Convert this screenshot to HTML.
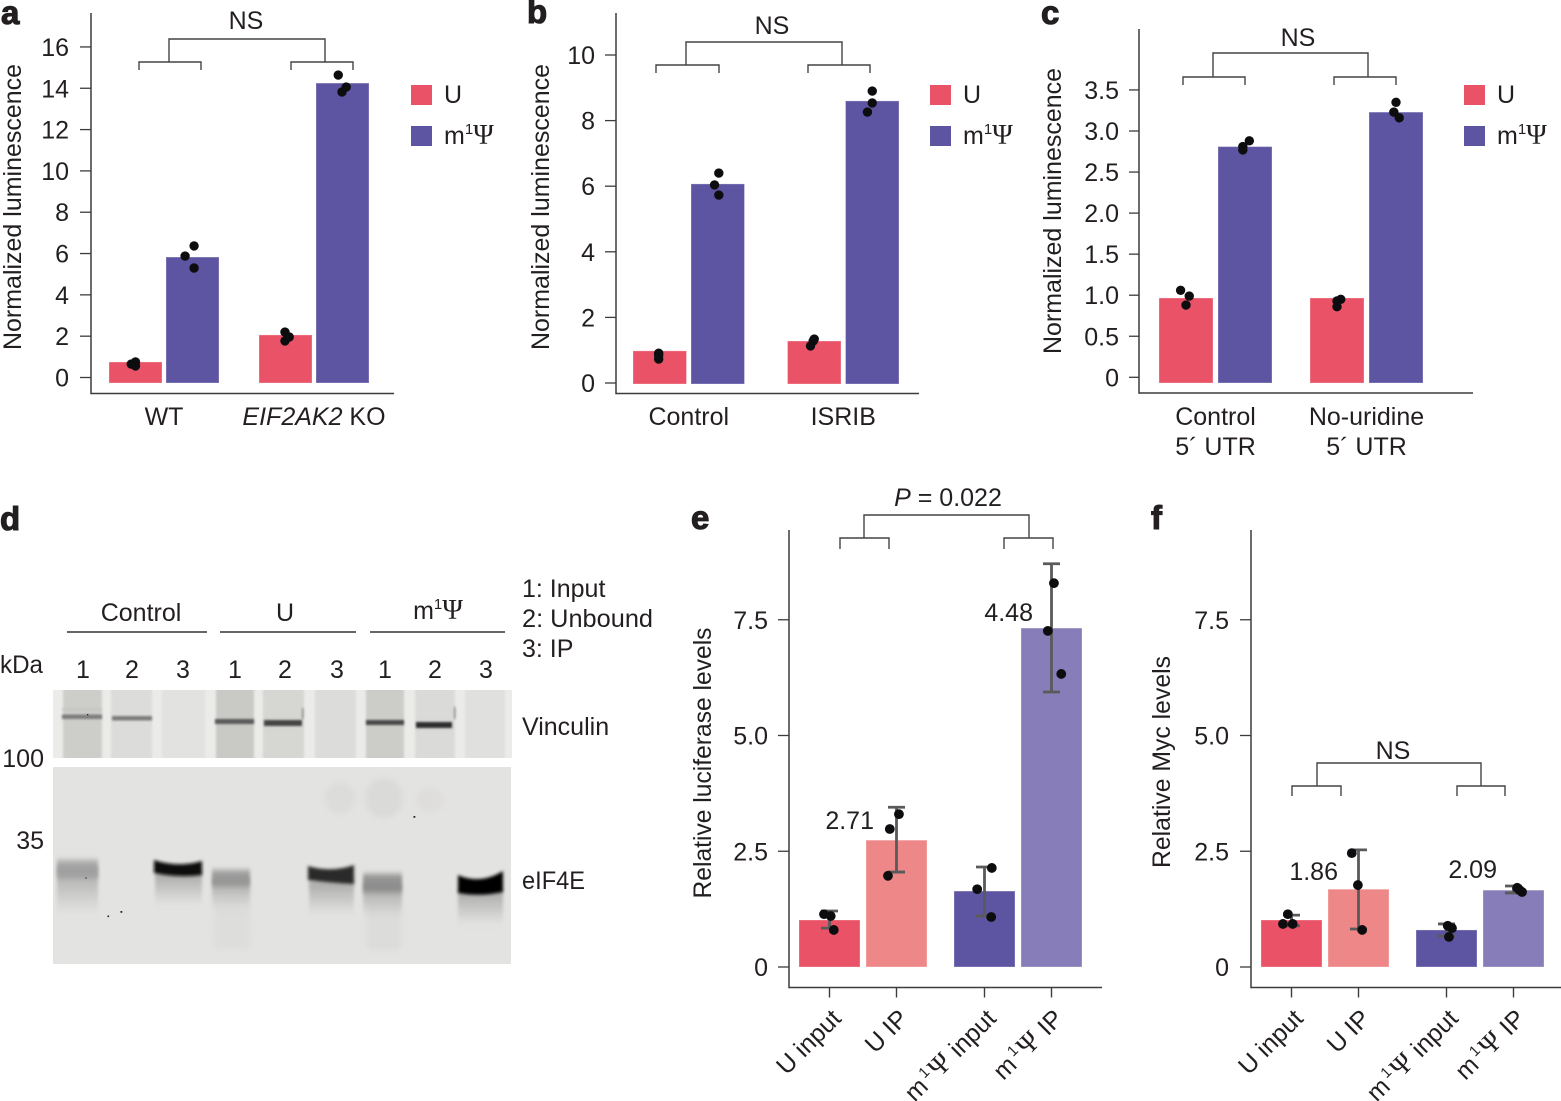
<!DOCTYPE html>
<html lang="en">
<head>
<meta charset="utf-8">
<title>Luminescence, blot and IP panels</title>
<style>
  html, body { margin: 0; padding: 0; background: #fff; }
  svg { display: block; }
  text { font-family: "Liberation Sans", Arial, sans-serif; font-size: 25px; fill: #231f20; }
  .psi { font-family: "Liberation Serif", serif; font-size: 28px; }
  .letter { font-size: 33px; font-weight: 700; stroke: #231f20; stroke-width: 1.1px; }
  .bracket { fill: none; stroke: #444; stroke-width: 1.4; }
  .sep { stroke: #333; stroke-width: 1.4; }
</style>
</head>
<body>
<svg id="figure" xmlns="http://www.w3.org/2000/svg" width="1561" height="1101" viewBox="0 0 1561 1101">
  <defs>
    <filter id="b1" x="-20%" y="-100%" width="140%" height="300%"><feGaussianBlur stdDeviation="1"/></filter>
    <filter id="b15" x="-20%" y="-100%" width="140%" height="300%"><feGaussianBlur stdDeviation="1.5"/></filter>
    <filter id="b3" x="-30%" y="-100%" width="160%" height="300%"><feGaussianBlur stdDeviation="1.5 3"/></filter>
    <filter id="b4" x="-30%" y="-50%" width="160%" height="200%"><feGaussianBlur stdDeviation="3"/></filter>
    <linearGradient id="smear" x1="0" y1="0" x2="0" y2="1">
      <stop offset="0" stop-color="#808080" stop-opacity=".62"/>
      <stop offset=".55" stop-color="#909090" stop-opacity=".3"/>
      <stop offset="1" stop-color="#aaa" stop-opacity="0"/>
    </linearGradient>
    <clipPath id="clip-vinc"><rect x="53" y="690" width="459" height="68"/></clipPath>
    <clipPath id="clip-eif"><rect x="53" y="767" width="458" height="197"/></clipPath>
  </defs>

  <!-- panel letters -->
  <text class="letter" x="1" y="24">a</text>
  <text class="letter" x="527" y="23">b</text>
  <text class="letter" x="1041" y="24">c</text>
  <text class="letter" x="0" y="530">d</text>
  <text class="letter" x="691" y="529">e</text>
  <text class="letter" x="1151" y="529">f</text>

  <!-- axis titles -->
  <text transform="translate(21,207) rotate(-90)" text-anchor="middle" textLength="286" lengthAdjust="spacingAndGlyphs">Normalized luminescence</text>
  <text transform="translate(549,207) rotate(-90)" text-anchor="middle" textLength="286" lengthAdjust="spacingAndGlyphs">Normalized luminescence</text>
  <text transform="translate(1061,211) rotate(-90)" text-anchor="middle" textLength="286" lengthAdjust="spacingAndGlyphs">Normalized luminescence</text>
  <text transform="translate(711,763) rotate(-90)" text-anchor="middle" textLength="271" lengthAdjust="spacingAndGlyphs">Relative luciferase levels</text>
  <text transform="translate(1170,762) rotate(-90)" text-anchor="middle" textLength="212" lengthAdjust="spacingAndGlyphs">Relative Myc levels</text>

  <!-- significance brackets -->
  <g>
    <path class="bracket" d="M139 70V62H201V70M291 70V62H353V70M169 62V39H325V62"/>
    <text x="246" y="29" text-anchor="middle">NS</text>
  </g>
  <g>
    <path class="bracket" d="M656 73V65H719V73M808 73V65H870V73M686 65V42H842V65"/>
    <text x="772" y="34" text-anchor="middle">NS</text>
  </g>
  <g>
    <path class="bracket" d="M1183 85V77H1245V85M1334 85V77H1396V85M1213 77V53H1368V77"/>
    <text x="1298" y="46" text-anchor="middle">NS</text>
  </g>
  <g>
    <path class="bracket" d="M840 549V538H889V549M1004 549V538H1053V549M864 538V515H1029V538"/>
    <text x="948" y="506" text-anchor="middle"><tspan font-style="italic">P</tspan> = 0.022</text>
  </g>
  <g>
    <path class="bracket" d="M1292 796V786H1341V796M1457 796V786H1505V796M1317 786V763H1481V786"/>
    <text x="1393" y="759" text-anchor="middle">NS</text>
  </g>

  <!-- legends -->
  <g>
    <rect x="411" y="85" width="21" height="20" fill="#e95267"/>
    <text x="444" y="103">U</text>
    <rect x="411" y="126" width="21" height="20" fill="#5e55a2"/>
    <text x="444" y="144">m<tspan dy="-10" font-size="15">1</tspan><tspan dy="10" class="psi">Ψ</tspan></text>
  </g>
  <g>
    <rect x="930" y="85" width="21" height="20" fill="#e95267"/>
    <text x="963" y="103">U</text>
    <rect x="930" y="126" width="21" height="20" fill="#5e55a2"/>
    <text x="963" y="144">m<tspan dy="-10" font-size="15">1</tspan><tspan dy="10" class="psi">Ψ</tspan></text>
  </g>
  <g>
    <rect x="1464" y="85" width="21" height="20" fill="#e95267"/>
    <text x="1497" y="103">U</text>
    <rect x="1464" y="126" width="21" height="20" fill="#5e55a2"/>
    <text x="1497" y="144">m<tspan dy="-10" font-size="15">1</tspan><tspan dy="10" class="psi">Ψ</tspan></text>
  </g>

  <!-- panel d: western blots -->
  <g>
    <text x="141" y="621" text-anchor="middle">Control</text>
    <text x="285" y="621" text-anchor="middle">U</text>
    <text x="438" y="619" text-anchor="middle">m<tspan dy="-10" font-size="15">1</tspan><tspan dy="10" class="psi">Ψ</tspan></text>
    <line class="sep" x1="67" y1="632" x2="207" y2="632"/>
    <line class="sep" x1="220" y1="632" x2="356" y2="632"/>
    <line class="sep" x1="370" y1="632" x2="505" y2="632"/>
    <g text-anchor="middle">
      <text x="83" y="678">1</text><text x="132" y="678">2</text><text x="183" y="678">3</text>
      <text x="235" y="678">1</text><text x="285" y="678">2</text><text x="337" y="678">3</text>
      <text x="385" y="678">1</text><text x="435" y="678">2</text><text x="486" y="678">3</text>
    </g>
    <text x="0" y="673" textLength="43" lengthAdjust="spacingAndGlyphs">kDa</text>
    <text x="44" y="767" text-anchor="end">100</text>
    <text x="44" y="849" text-anchor="end">35</text>
    <text x="522" y="597">1: Input</text>
    <text x="522" y="627" textLength="131" lengthAdjust="spacingAndGlyphs">2: Unbound</text>
    <text x="522" y="657">3: IP</text>
    <text x="522" y="735">Vinculin</text>
    <text x="522" y="889" textLength="63" lengthAdjust="spacingAndGlyphs">eIF4E</text>

    <g clip-path="url(#clip-vinc)">
      <rect x="53" y="690" width="459" height="68" fill="#ebebea"/>
      <g filter="url(#b1)">
        <rect x="63" y="686" width="39" height="76" fill="#cdcdc9"/>
        <rect x="111" y="686" width="41" height="76" fill="#dcdcda"/>
        <rect x="162" y="686" width="43" height="76" fill="#e2e2e0"/>
        <rect x="216" y="686" width="38" height="76" fill="#c9c9c6"/>
        <rect x="263" y="686" width="41" height="76" fill="#d6d6d3"/>
        <rect x="315" y="686" width="41" height="76" fill="#dcdcda"/>
        <rect x="366" y="686" width="38" height="76" fill="#ccccc8"/>
        <rect x="415" y="686" width="40" height="76" fill="#dadad8"/>
        <rect x="465" y="686" width="40" height="76" fill="#e0e0de"/>
      </g>
      <g filter="url(#b1)">
        <rect x="62" y="708" width="40" height="3" fill="#bbb" opacity=".5"/>
        <rect x="62" y="714.5" width="40" height="4.5" fill="#7d7d7d"/>
        <rect x="112" y="716" width="40" height="4.5" fill="#7d7d7d"/>
        <rect x="215" y="719" width="39" height="5" fill="#5a5a5a"/>
        <rect x="264" y="720" width="38" height="6" fill="#454545"/>
        <rect x="366" y="720" width="38" height="5" fill="#4a4a4a"/>
        <rect x="416" y="722" width="36" height="6" fill="#2e2e2e"/>
        <rect x="302" y="708" width="1.5" height="11" fill="#888"/>
        <rect x="454" y="707" width="1.5" height="12" fill="#888"/>
      </g>
      <rect x="87" y="714" width="1.3" height="1.3" fill="#222"/>
    </g>

    <g clip-path="url(#clip-eif)">
      <rect x="53" y="767" width="458" height="197" fill="#e3e3e1"/>
      <g filter="url(#b4)">
        <ellipse cx="340" cy="798" rx="15" ry="16" fill="#dcdcda"/>
        <ellipse cx="384" cy="798" rx="19" ry="20" fill="#dadad8"/>
        <ellipse cx="430" cy="800" rx="14" ry="12" fill="#dedddb"/>
        <rect x="367" y="890" width="34" height="60" fill="#dcdcda"/>
        <rect x="214" y="885" width="36" height="64" fill="#dddddb"/>
      </g>
      <g filter="url(#b3)">
        <rect x="57" y="866" width="41" height="50" fill="url(#smear)"/>
        <rect x="155" y="872" width="47" height="34" fill="url(#smear)"/>
        <rect x="212" y="878" width="38" height="32" fill="url(#smear)"/>
        <rect x="309" y="880" width="45" height="36" fill="url(#smear)"/>
        <rect x="363" y="884" width="39" height="34" fill="url(#smear)"/>
        <rect x="458" y="890" width="45" height="36" fill="url(#smear)"/>
      </g>
      <g filter="url(#b3)">
        <rect x="57" y="860" width="41" height="18" fill="#9c9c9c" opacity=".8"/>
        <rect x="212" y="870" width="38" height="16" fill="#909090" opacity=".85"/>
        <rect x="363" y="874" width="39" height="18" fill="#858585" opacity=".85"/>
      </g>
      <g filter="url(#b15)">
        <path d="M154 860Q178 868 202 861V875Q178 878 154 873Z" fill="#0a0a0a"/>
        <path d="M308 866Q331 873 354 865V884Q331 883 308 880Z" fill="#2a2a2a"/>
        <path d="M458 875Q480 885 503 871V892Q480 897 458 893Z" fill="#060606"/>
      </g>
      <rect x="85" y="877" width="2" height="2" fill="#777"/>
      <rect x="107.500" y="915.500" width="1.6" height="1.6" fill="#222"/>
      <rect x="120.500" y="911" width="1.8" height="1.8" fill="#222"/>
      <rect x="413.500" y="816" width="1.8" height="1.8" fill="#222"/>
    </g>
  </g>

  <g id="plots"></g>
</svg>

<script>
// Panel a
const aCategories = ['WT', 'EIF2AK2 KO'];
const aTickValues = [0, 2, 4, 6, 8, 10, 12, 14, 16];
const aTickLabels = ['0', '2', '4', '6', '8', '10', '12', '14', '16'];
const aUValues = [0.75, 2.06];
const aMValues = [5.83, 14.25];
const aUPoints = [[0.65, 0.75, 0.56], [2.20, 1.96, 1.77]];
const aMPoints = [[5.88, 6.37, 5.30], [14.64, 14.06, 13.82]];
const aUJitter = [[-0.08, 0, 0], [-0.01, 0.07, -0.01]];
const aMJitter = [[-0.14, 0.03, 0.03], [-0.08, 0.07, -0.01]];

// Panel b
const bCategories = ['Control', 'ISRIB'];
const bTickValues = [0, 2, 4, 6, 8, 10];
const bTickLabels = ['0', '2', '4', '6', '8', '10'];
const bUValues = [0.98, 1.28];
const bMValues = [6.07, 8.60];
const bUPoints = [[0.91, 0.85, 0.73], [1.34, 1.28, 1.13]];
const bMPoints = [[6.40, 6.04, 5.73], [8.90, 8.54, 8.26]];
const bUJitter = [[-0.02, -0.02, -0.02], [0, -0.02, -0.07]];
const bMJitter = [[0.02, -0.06, 0.02], [0, 0, -0.09]];

// Panel c
const cCategories = ['Control|5\u00b4 UTR', 'No-uridine|5\u00b4 UTR'];
const cTickValues = [0, 0.5, 1, 1.5, 2, 2.5, 3, 3.5];
const cTickLabels = ['0', '0.5', '1.0', '1.5', '2.0', '2.5', '3.0', '3.5'];
const cUValues = [0.966, 0.966];
const cMValues = [2.81, 3.23];
const cUPoints = [[1.06, 0.99, 0.88], [0.95, 0.93, 0.86]];
const cMPoints = [[2.88, 2.81, 2.77], [3.35, 3.23, 3.16]];
const cUJitter = [[-0.10, 0.06, 0], [0.07, 0, 0]];
const cMJitter = [[0.08, -0.04, -0.04], [0, -0.04, 0.06]];

// Panels e and f share a tick set
const ipTickValues = [0, 2.5, 5, 7.5];
const ipTickLabels = ['0', '2.5', '5.0', '7.5'];
const ipCategories = ['U input', 'U IP', 'm1\u03a8 input', 'm1\u03a8 IP'];

// Panel e
const eValues = [1.015, 2.74, 1.64, 7.32];
const eErrorLow = [0.84, 2.05, 1.10, 5.94];
const eErrorHigh = [1.21, 3.45, 2.16, 8.71];
const ePoints = [[1.14, 1.10, 0.80], [3.30, 2.98, 1.97], [2.14, 1.68, 1.08], [8.29, 7.26, 6.33]];
const eJitter = [[-0.09, 0.02, 0.07], [0.04, -0.11, -0.14], [0.12, -0.12, 0.11], [0.04, -0.06, 0.16]];
const eFoldLabels = ['', '2.71', '', '4.48'];

// Panel f
const fValues = [1.015, 1.68, 0.80, 1.66];
const fErrorLow = [0.89, 0.82, 0.67, 1.60];
const fErrorHigh = [1.12, 2.53, 0.93, 1.75];
const fPoints = [[1.14, 0.93, 0.93], [2.46, 1.77, 0.80], [0.89, 0.84, 0.65], [1.71, 1.66, 1.62]];
const fJitter = [[-0.06, -0.14, 0.02], [-0.11, -0.01, 0.06], [0.02, 0.09, 0.04], [0.06, 0.10, 0.14]];
const fFoldLabels = ['', '1.86', '', '2.09'];

const NS = 'http://www.w3.org/2000/svg';
const plots = document.getElementById('plots');
const RED = '#e95267', PURPLE = '#5e55a2', LIGHT_RED = '#ee8888', LIGHT_PURPLE = '#877db8';

function svgEl(tag, attrs, parent) {
  const el = document.createElementNS(NS, tag);
  for (const k in attrs) el.setAttribute(k, attrs[k]);
  parent.appendChild(el);
  return el;
}

function addSpan(text, str, attrs) {
  const s = document.createElementNS(NS, 'tspan');
  for (const k in attrs) s.setAttribute(k, attrs[k]);
  s.textContent = str;
  text.appendChild(s);
}

// Writes a label, styling the m1Psi token and the italic gene name.
function fillLabel(text, label) {
  if (label.indexOf('m1\u03a8') === 0) {
    addSpan(text, 'm', {});
    addSpan(text, '1', { dx: 3, dy: -10, 'font-size': 15 });
    addSpan(text, '\u03a8', { dx: 2, dy: 10, class: 'psi' });
    addSpan(text, label.slice(3), { dx: 1 });
  } else if (label.indexOf('EIF2AK2') === 0) {
    addSpan(text, 'EIF2AK2', { 'font-style': 'italic' });
    addSpan(text, label.slice(7), {});
  } else {
    text.textContent = label;
  }
}

function drawAxes(g, frame, y, tickValues, tickLabels) {
  const yAxis = svgEl('line', { x1: frame.left, y1: frame.top, x2: frame.left, y2: frame.bottom + .7, stroke: '#3c3c3c', 'stroke-width': 1.5 }, g);
  
  
  const xAxis = svgEl('line', { x1: frame.left, y1: frame.bottom, x2: frame.right, y2: frame.bottom, stroke: '#3c3c3c', 'stroke-width': 1.5 }, g);
  
  
  tickValues.forEach(function (v, i) {
    const tick = svgEl('line', { x1: frame.left - frame.tick, y1: y(v), x2: frame.left, y2: y(v), stroke: '#3c3c3c', 'stroke-width': 1.3 }, g);
    
    
    const label = svgEl('text', { x: frame.labelRight, y: y(v) + 9, 'text-anchor': 'end' }, g);
    
    
    label.textContent = tickLabels[i];
  });
}

function drawBar(g, left, width, top, bottom, color) {
  const bar = svgEl('rect', { x: left, y: top, width: width, height: bottom - top, fill: color, stroke: '#fff', 'stroke-opacity': .3, 'stroke-width': 1 }, g);
  
  
}

function drawDots(g, center, width, values, jitter, y, r) {
  values.forEach(function (v, i) {
    const dot = svgEl('circle', { cx: center + jitter[i] * width, cy: y(v), r: r, fill: '#0d0d10' }, g);
    
    
  });
}

// Panels a, b, c: paired U / m1Psi bars in two groups.
function drawGrouped(name, layout, categories, tickValues, tickLabels, uValues, mValues, uPoints, mPoints, uJitter, mJitter) {
  const g = svgEl('g', {}, plots);
  
  
  const y = function (v) { return layout.yZero - v * layout.pxPerUnit; };
  drawAxes(g, layout, y, tickValues, tickLabels);
  const base = layout.barBottom;
  categories.forEach(function (cat, i) {
    const x0 = layout.groupStarts[i], w = layout.barWidth, x1 = x0 + w + layout.barGap;
    drawBar(g, x0, w, y(uValues[i]), base, RED);
    drawBar(g, x1, w, y(mValues[i]), base, PURPLE);
    const text = svgEl('text', { x: (x0 + x1 + w) / 2 + layout.labelShift, y: 425, 'text-anchor': 'middle' }, g);
    
    
    const lines = cat.split('|');
    fillLabel(text, lines[0]);
    if (lines[1]) {
      const second = svgEl('text', { x: (x0 + x1 + w) / 2 + layout.labelShift, y: 455, 'text-anchor': 'middle' }, g);
      
      
      second.textContent = lines[1];
    }
    drawDots(g, x0 + w / 2, w, uPoints[i], uJitter[i], y, 4.7);
    drawDots(g, x1 + w / 2, w, mPoints[i], mJitter[i], y, 4.7);
  });
}

// Panels e, f: four bars with error bars and rotated labels.
function drawIP(name, layout, categories, tickValues, tickLabels, values, errLow, errHigh, points, jitter, foldLabels) {
  const g = svgEl('g', {}, plots);
  
  
  const y = function (v) { return layout.yZero - v * layout.pxPerUnit; };
  drawAxes(g, layout, y, tickValues, tickLabels);
  const colors = [RED, LIGHT_RED, PURPLE, LIGHT_PURPLE];
  categories.forEach(function (cat, i) {
    const w = layout.barWidth, x0 = layout.barStarts[i], cx = x0 + w / 2;
    drawBar(g, x0, w, y(values[i]), y(0), colors[i]);
    const err = svgEl('path', {
      d: 'M' + (cx - 8.5) + ' ' + y(errHigh[i]) + 'H' + (cx + 8.5) + 'M' + cx + ' ' + y(errHigh[i]) + 'V' + y(errLow[i]) + 'M' + (cx - 8.5) + ' ' + y(errLow[i]) + 'H' + (cx + 8.5),
      fill: 'none', stroke: '#5a5a5a', 'stroke-width': 2.8
    }, g);
    
    
    drawDots(g, cx, w, points[i], jitter[i], y, 4.9);
    const tick = svgEl('line', { x1: cx, y1: layout.bottom, x2: cx, y2: layout.bottom + 10, stroke: '#3c3c3c', 'stroke-width': 1.4 }, g);
    
    
    const lx = cx + 13, ly = 1020;
    const text = svgEl('text', { x: lx, y: ly, 'text-anchor': 'end', transform: 'rotate(-45 ' + lx + ' ' + ly + ')' }, g);
    
    
    fillLabel(text, cat);
    if (foldLabels[i]) {
      const fold = svgEl('text', { x: layout.foldAnchors[i], y: layout.foldBaselines[i], 'text-anchor': 'end' }, g);
      
      
      fold.textContent = foldLabels[i];
    }
  });
}

drawGrouped('chart-a', { left: 91, right: 394, top: 13, bottom: 393.5, tick: 11, labelRight: 69, labelShift: 0, yZero: 377.5, pxPerUnit: 20.66, barBottom: 383, groupStarts: [109, 259], barWidth: 53, barGap: 4 },
  aCategories, aTickValues, aTickLabels, aUValues, aMValues, aUPoints, aMPoints, aUJitter, aMJitter);

drawGrouped('chart-b', { left: 616, right: 919, top: 13, bottom: 393.5, tick: 11, labelRight: 595, labelShift: 0, yZero: 383, pxPerUnit: 32.8, barBottom: 384, groupStarts: [633, 787.500], barWidth: 53.5, barGap: 4.5 },
  bCategories, bTickValues, bTickLabels, bUValues, bMValues, bUPoints, bMPoints, bUJitter, bMJitter);

drawGrouped('chart-c', { left: 1139, right: 1473, top: 29, bottom: 393, tick: 10, labelRight: 1119, labelShift: 0, yZero: 377.3, pxPerUnit: 82.1, barBottom: 383, groupStarts: [1159, 1310], barWidth: 54, barGap: 5 },
  cCategories, cTickValues, cTickLabels, cUValues, cMValues, cUPoints, cMPoints, cUJitter, cMJitter);

drawIP('chart-e', { left: 789, right: 1102, top: 530, bottom: 987.5, tick: 11, labelRight: 768, yZero: 967, pxPerUnit: 46.3, barWidth: 61, barStarts: [799, 866, 954, 1021], foldAnchors: [0, 874, 0, 1033], foldBaselines: [0, 829, 0, 621] },
  ipCategories, ipTickValues, ipTickLabels, eValues, eErrorLow, eErrorHigh, ePoints, eJitter, eFoldLabels);

drawIP('chart-f', { left: 1251, right: 1561, top: 530, bottom: 987.5, tick: 11, labelRight: 1229, yZero: 967, pxPerUnit: 46.3, barWidth: 61, barStarts: [1261, 1328, 1416, 1483], foldAnchors: [0, 1338, 0, 1497], foldBaselines: [0, 880, 0, 878] },
  ipCategories, ipTickValues, ipTickLabels, fValues, fErrorLow, fErrorHigh, fPoints, fJitter, fFoldLabels);
</script>
</body>
</html>
